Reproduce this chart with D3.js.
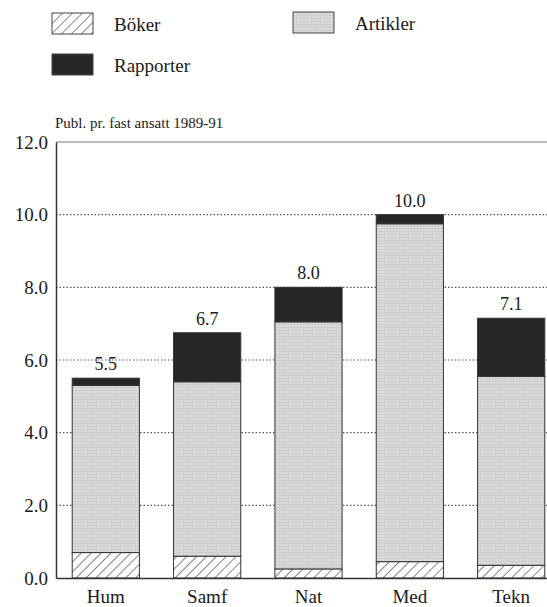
<!DOCTYPE html>
<html>
<head>
<meta charset="utf-8">
<script src="https://cdn.jsdelivr.net/npm/d3@7"></script>
<style>
  body { margin: 0; background: #fff; }
</style>
</head>
<body>
<div id="vis"></div>
<script>
// Data
const categories = ["Hum", "Samf", "Nat", "Med", "Tekn"];
const boker = [0.7, 0.6, 0.25, 0.45, 0.35];
const artikler = [4.6, 4.8, 6.8, 9.3, 5.2];
const rapporter = [0.2, 1.35, 0.95, 0.25, 1.6];
const totals = ["5.5", "6.7", "8.0", "10.0", "7.1"];
const yTicks = [0, 2, 4, 6, 8, 10, 12];
const seriesNames = ["Böker", "Artikler", "Rapporter"];

const WIDTH = 547;
const HEIGHT = 607;
const margins = { left: 56, right: -14, top: 142, bottom: 29 };
const SERIF = "'Liberation Serif', 'Times New Roman', serif";

const SVG = d3.select("#vis").append("svg")
  .attr("width", WIDTH)
  .attr("height", HEIGHT);

// patterns
const defs = SVG.append("defs");
const hatch = defs.append("pattern")
  .attr("id", "hatch")
  .attr("patternUnits", "userSpaceOnUse")
  .attr("width", 7).attr("height", 7)
  .attr("patternTransform", "rotate(45)");
hatch.append("rect").attr("width", 7).attr("height", 7).attr("fill", "#fff");
hatch.append("line").attr("x1", 0).attr("y1", 0).attr("x2", 0).attr("y2", 7)
  .attr("stroke", "#222").attr("stroke-width", 1.1);

const grain = defs.append("pattern")
  .attr("id", "grain")
  .attr("patternUnits", "userSpaceOnUse")
  .attr("width", 3).attr("height", 3);
grain.append("rect").attr("width", 3).attr("height", 3).attr("fill", "#dcdcdc");
grain.append("rect").attr("width", 3).attr("height", 1).attr("fill", "#cbcbcb");
grain.append("rect").attr("width", 1).attr("height", 3).attr("fill", "#d0d0d0");

const fills = ["url(#hatch)", "url(#grain)", "#262626"];

// scales
const x = d3.scaleBand()
  .domain(categories)
  .range([margins.left, WIDTH - margins.right])
  .paddingInner(0.337)
  .paddingOuter(0.16);

const y = d3.scaleLinear()
  .domain([0, 12])
  .range([HEIGHT - margins.bottom, margins.top]);

// stack
const rows = categories.map((c, i) => ({ cat: c, "Böker": boker[i], "Artikler": artikler[i], "Rapporter": rapporter[i] }));
const stacked = d3.stack().keys(seriesNames)(rows);

// dotted grid
SVG.append("g")
  .selectAll("line")
  .data(yTicks.filter(d => d > 0 && d < 12))
  .join("line")
  .attr("x1", margins.left)
  .attr("x2", WIDTH)
  .attr("y1", d => y(d))
  .attr("y2", d => y(d))
  .attr("stroke", "#555")
  .attr("stroke-width", 1.2)
  .attr("stroke-dasharray", "1.5,2");

// top border line
SVG.append("line")
  .attr("x1", margins.left).attr("x2", WIDTH)
  .attr("y1", y(12)).attr("y2", y(12))
  .attr("stroke", "#777").attr("stroke-width", 1);

// bars
SVG.append("g")
  .selectAll("g")
  .data(stacked)
  .join("g")
  .attr("fill", (d, i) => fills[i])
  .selectAll("rect")
  .data(d => d)
  .join("rect")
  .attr("x", d => x(d.data.cat))
  .attr("y", d => y(d[1]))
  .attr("width", x.bandwidth())
  .attr("height", d => y(d[0]) - y(d[1]))
  .attr("stroke", "#333")
  .attr("stroke-width", 1);

// value labels
SVG.append("g")
  .selectAll("text")
  .data(rows)
  .join("text")
  .attr("x", d => x(d.cat) + x.bandwidth() / 2)
  .attr("y", d => y(d["Böker"] + d["Artikler"] + d["Rapporter"]) - 8)
  .attr("text-anchor", "middle")
  .style("font-family", SERIF)
  .style("font-size", "18px")
  .attr("fill", "#1a1a1a")
  .text((d, i) => totals[i]);

// y axis
const ejeY = d3.axisLeft(y).tickValues(yTicks).tickFormat(d3.format(".1f")).tickSize(0).tickPadding(8);
const gy = SVG.append("g")
  .attr("transform", `translate(${margins.left},0)`)
  .call(ejeY);
gy.select(".domain").attr("stroke", "#333").attr("stroke-width", 1.5);
gy.selectAll("text")
  .style("font-family", SERIF)
  .style("font-size", "19px")
  .attr("fill", "#1a1a1a");

// x axis baseline
const ejeX = d3.axisBottom(x).tickSize(0).tickPadding(12);
const gx = SVG.append("g")
  .attr("transform", `translate(0,${y(0)})`)
  .call(ejeX);
gx.select(".domain").attr("stroke", "#333").attr("stroke-width", 1.5);
gx.selectAll("text")
  .style("font-family", SERIF)
  .style("font-size", "19px")
  .attr("fill", "#1a1a1a");

// axis title
SVG.append("text")
  .attr("x", 55)
  .attr("y", 128)
  .style("font-family", SERIF)
  .style("font-size", "15px")
  .attr("fill", "#1a1a1a")
  .text("Publ. pr. fast ansatt 1989-91");

// legend
const legendPos = [[52, 13], [293, 12], [52, 54]];
const legend = SVG.append("g")
  .selectAll("g")
  .data(seriesNames)
  .join("g")
  .attr("transform", (d, i) => `translate(${legendPos[i][0]},${legendPos[i][1]})`);
legend.append("rect")
  .attr("width", 41).attr("height", 21)
  .attr("fill", (d, i) => fills[i])
  .attr("stroke", "#444").attr("stroke-width", 1);
legend.append("text")
  .attr("x", 62).attr("y", 18)
  .style("font-family", SERIF)
  .style("font-size", "19px")
  .attr("fill", "#1a1a1a")
  .text(d => d);
</script>
</body>
</html>
